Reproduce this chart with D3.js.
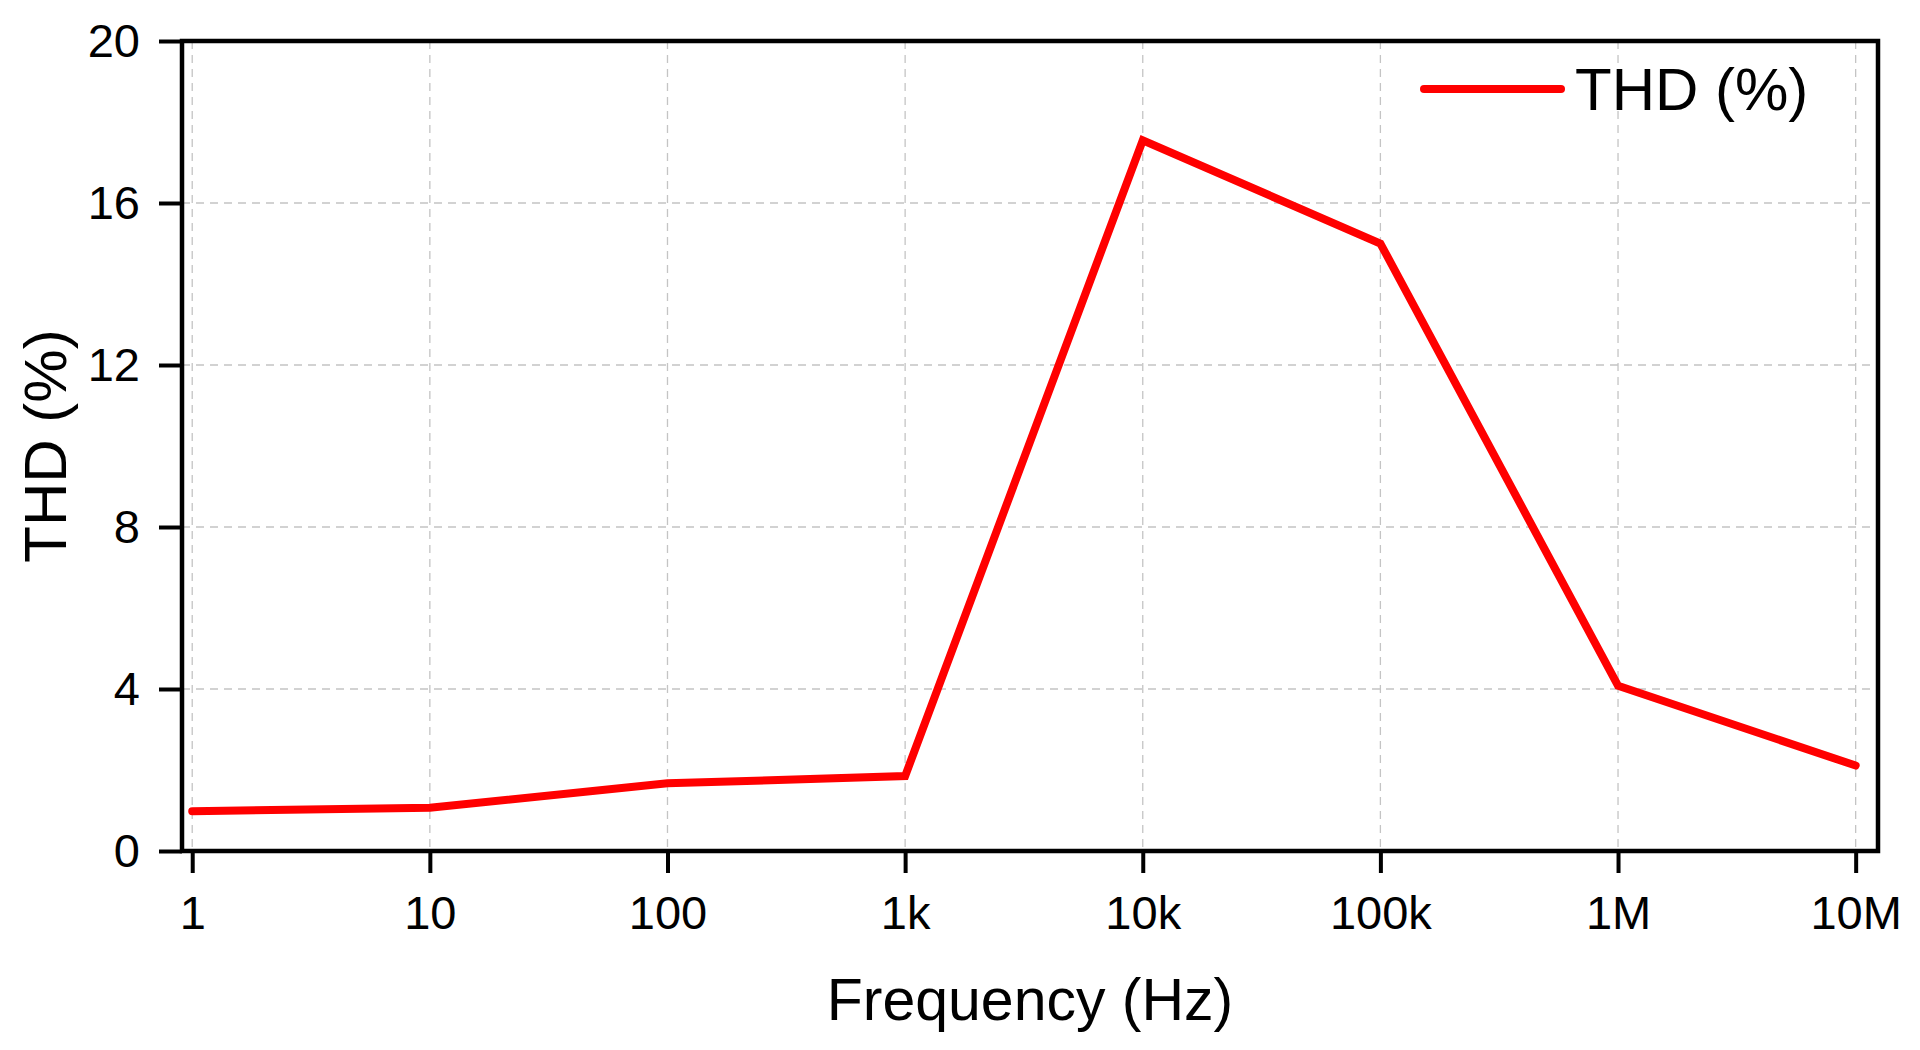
<!DOCTYPE html>
<html lang="en">
	<head>
		<meta charset="utf-8">
		<title>THD vs Frequency</title>
		<script type="text/javascript" src="https://cdn.jsdelivr.net/npm/d3@7"></script>
		<style type="text/css">
			body{
				margin: 0;
				background: white;
			}
			text{
				font-family: "Liberation Sans", Arial, sans-serif;
				fill: black;
			}
			.axis text{
				font-size: 47px;
			}
			.axis line{
				stroke: black;
				stroke-width: 4;
			}
			.grid line{
				stroke: #c4c4c4;
				stroke-width: 1.3;
				stroke-dasharray: 8,6;
			}
		</style>
	</head>
	<body>
		<div class="chart"></div>
		<script type="text/javascript">

			// data
			var freqs = [1, 10, 100, 1e3, 1e4, 1e5, 1e6, 1e7];
			var thd = [0.98, 1.07, 1.67, 1.85, 17.55, 15.0, 4.08, 2.11];
			var xTickLabels = ["1", "10", "100", "1k", "10k", "100k", "1M", "10M"];
			var yTicks = [0, 4, 8, 12, 16, 20];
			var seriesName = "THD (%)";

			var w = 1920;
			var h = 1050;

			// plot box (window.top is taken, so own names)
			var padL = 182, padR = 1878, padT = 41, padB = 851;

			var svg = d3.select("div.chart")
						.append("svg")
						.attr("width", w)
						.attr("height", h);

			svg.append("rect")
				.attr("width", w)
				.attr("height", h)
				.attr("fill", "white");

			var x = d3.scaleLog()
						.domain([Math.pow(10, -0.043), Math.pow(10, 7.094)])
						.range([padL, padR]);

			var y = d3.scaleLinear()
						.domain([0, 20])
						.range([padB, padT]);

			// dashed grid
			var grid = svg.append("g").attr("class", "grid");

			grid.selectAll(".vx")
				.data(freqs)
				.enter()
				.append("line")
				.attr("class", "vx")
				.attr("x1", d => x(d))
				.attr("x2", d => x(d))
				.attr("y1", padT)
				.attr("y2", padB);

			grid.selectAll(".hy")
				.data(yTicks.slice(1, -1))
				.enter()
				.append("line")
				.attr("class", "hy")
				.attr("x1", padL)
				.attr("x2", padR)
				.attr("y1", d => y(d))
				.attr("y2", d => y(d));

			// the series
			var line = d3.line()
						.x((d, i) => x(freqs[i]))
						.y(d => y(d));

			svg.append("path")
				.datum(thd)
				.attr("d", line)
				.attr("fill", "none")
				.attr("stroke", "#ff0000")
				.attr("stroke-width", 8)
				.attr("stroke-linecap", "round")
				.attr("stroke-linejoin", "miter");

			// axes
			var xAxis = d3.axisBottom(x)
							.tickValues(freqs)
							.tickFormat((d, i) => xTickLabels[i])
							.tickSizeInner(22)
							.tickSizeOuter(0)
							.tickPadding(23);

			svg.append("g")
				.attr("class", "axis")
				.attr("transform", "translate(0," + padB + ")")
				.call(xAxis)
				.select(".domain")
				.remove();

			var yAxis = d3.axisLeft(y)
							.tickValues(yTicks)
							.tickSizeInner(23)
							.tickSizeOuter(0)
							.tickPadding(19);

			svg.append("g")
				.attr("class", "axis")
				.attr("transform", "translate(" + padL + ",0)")
				.call(yAxis)
				.select(".domain")
				.remove();

			// frame
			svg.append("rect")
				.attr("x", padL)
				.attr("y", padT)
				.attr("width", padR - padL)
				.attr("height", padB - padT)
				.attr("fill", "none")
				.attr("stroke", "black")
				.attr("stroke-width", 4.5);

			// titles
			svg.append("text")
				.attr("x", (padL + padR) / 2)
				.attr("y", 1020)
				.attr("text-anchor", "middle")
				.style("font-size", "59px")
				.text("Frequency (Hz)");

			svg.append("text")
				.attr("transform", "translate(66," + ((padT + padB) / 2) + ") rotate(-90)")
				.attr("text-anchor", "middle")
				.style("font-size", "60px")
				.text("THD (%)");

			// legend
			var legend = svg.append("g")
							.attr("transform", "translate(1424,89)");

			legend.append("line")
				.attr("x1", 0)
				.attr("x2", 137)
				.attr("stroke", "#ff0000")
				.attr("stroke-width", 8)
				.attr("stroke-linecap", "round");

			legend.append("text")
				.attr("x", 151)
				.attr("y", 21)
				.style("font-size", "60px")
				.text(seriesName);

		</script>
	</body>
</html>
